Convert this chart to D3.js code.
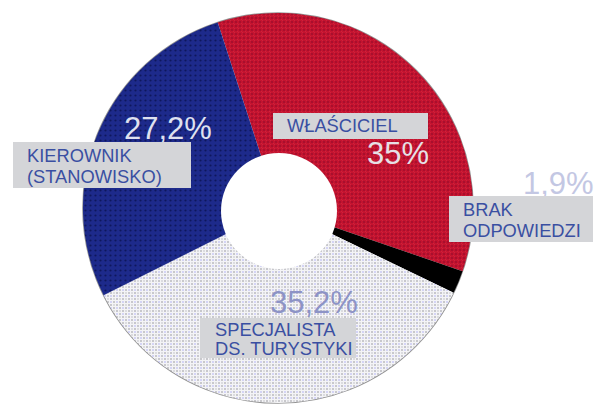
<!DOCTYPE html>
<html>
<head>
<meta charset="utf-8">
<script src="https://cdn.jsdelivr.net/npm/d3@7/dist/d3.min.js"></script>
<style>
html,body{margin:0;padding:0;background:#fff;}
svg{display:block;}
text{font-family:"Liberation Sans",Arial,sans-serif;}
</style>
</head>
<body>
<svg id="chart" width="605" height="409"></svg>
<script>
// ---- data ----
const categories = ["WŁAŚCICIEL", "BRAK ODPOWIEDZI", "SPECJALISTA DS. TURYSTYKI", "KIEROWNIK (STANOWISKO)"];
const values = [35, 1.9, 35.2, 27.2];
const percentLabels = ["35%", "1,9%", "35,2%", "27,2%"];
const labelLines = [["WŁAŚCICIEL"], ["BRAK", "ODPOWIEDZI"], ["SPECJALISTA", "DS. TURYSTYKI"], ["KIEROWNIK", "(STANOWISKO)"]];

// ---- layout / style ----
const fills = ["url(#pRed)", "#000000", "url(#pWhite)", "url(#pBlue)"];
const cx = 278, cy = 208, R = 195;
const hole = {x: 279, y: 211, r: 58};
const startDeg = -18;
const boxLayout = [
  {x: 273, y: 113, w: 155, h: 26, tx: 287, ty: [132]},
  {x: 449, y: 196, w: 144, h: 46, tx: 463, ty: [216, 237]},
  {x: 200, y: 318, w: 156, h: 40, tx: 215, ty: [336, 355]},
  {x: 13, y: 142, w: 178, h: 46, tx: 27, ty: [162, 183]}
];
const pctLayout = [
  {x: 367, y: 164, c: "#e6e0e6"},
  {x: 523, y: 194, c: "#c3c7e3"},
  {x: 270, y: 313, c: "#8d93c6"},
  {x: 124, y: 139, c: "#dfe1ef"}
];

const svg = d3.select("#chart");
const defs = svg.append("defs");

// red pattern
const pr = defs.append("pattern").attr("id", "pRed").attr("patternUnits", "userSpaceOnUse").attr("width", 4).attr("height", 4);
pr.append("rect").attr("width", 4).attr("height", 4).attr("fill", "#c4132f");
pr.append("circle").attr("cx", 2).attr("cy", 2).attr("r", 1.1).attr("fill", "#a20d2c");
pr.append("circle").attr("cx", 0).attr("cy", 0).attr("r", 0.9).attr("fill", "#d12a42");
pr.append("circle").attr("cx", 4).attr("cy", 4).attr("r", 0.9).attr("fill", "#d12a42");

// blue pattern
const pb = defs.append("pattern").attr("id", "pBlue").attr("patternUnits", "userSpaceOnUse").attr("width", 5).attr("height", 5);
pb.append("rect").attr("width", 5).attr("height", 5).attr("fill", "#1d2a8b");
pb.append("circle").attr("cx", 2.5).attr("cy", 2.5).attr("r", 1.1).attr("fill", "#0e175c");

// white pattern
const pw = defs.append("pattern").attr("id", "pWhite").attr("patternUnits", "userSpaceOnUse").attr("width", 6).attr("height", 6);
pw.append("rect").attr("width", 6).attr("height", 6).attr("fill", "#f4f4f6");
pw.append("rect").attr("x", 0).attr("y", 0).attr("width", 2).attr("height", 2).attr("fill", "#c8c8cc");
pw.append("rect").attr("x", 3).attr("y", 3).attr("width", 2).attr("height", 2).attr("fill", "#c8c8cc");
pw.append("rect").attr("x", 3).attr("y", 0).attr("width", 2).attr("height", 2).attr("fill", "#dcdce0");
pw.append("rect").attr("x", 0).attr("y", 3).attr("width", 2).attr("height", 2).attr("fill", "#d4d4f6");

defs.append("filter").attr("id", "blur").append("feGaussianBlur").attr("stdDeviation", 0.7);

const pie = d3.pie().sort(null).value(d => d)
  .startAngle(startDeg * Math.PI / 180)
  .endAngle(startDeg * Math.PI / 180 + 2 * Math.PI);
const arc = d3.arc().innerRadius(0).outerRadius(R);

const g = svg.append("g").attr("transform", `translate(${cx},${cy})`);

// soft outer edge
g.append("circle").attr("r", R).attr("fill", "none").attr("stroke", "#777").attr("stroke-width", 1.6)
  .attr("filter", "url(#blur)").attr("opacity", 0.8);

g.selectAll("path.slice").data(pie(values)).join("path")
  .attr("class", "slice")
  .attr("d", arc)
  .attr("fill", (d, i) => fills[i]);

svg.append("circle").attr("cx", hole.x).attr("cy", hole.y).attr("r", hole.r).attr("fill", "#fff");

// percentage labels
svg.selectAll("text.pct").data(percentLabels).join("text")
  .attr("class", "pct")
  .attr("x", (d, i) => pctLayout[i].x)
  .attr("y", (d, i) => pctLayout[i].y)
  .attr("font-size", 31)
  .attr("fill", (d, i) => pctLayout[i].c)
  .text(d => d);

// category boxes
const boxes = svg.selectAll("g.box").data(categories).join("g").attr("class", "box");
boxes.append("rect")
  .attr("x", (d, i) => boxLayout[i].x)
  .attr("y", (d, i) => boxLayout[i].y)
  .attr("width", (d, i) => boxLayout[i].w)
  .attr("height", (d, i) => boxLayout[i].h)
  .attr("fill", "#d4d5d8");
boxes.each(function(d, i) {
  const b = boxLayout[i];
  labelLines[i].forEach((line, j) => {
    d3.select(this).append("text")
      .attr("x", b.tx).attr("y", b.ty[j])
      .attr("font-size", 18.3)
      .attr("fill", "#3a4fa2")
      .text(line);
  });
});
</script>
</body>
</html>
